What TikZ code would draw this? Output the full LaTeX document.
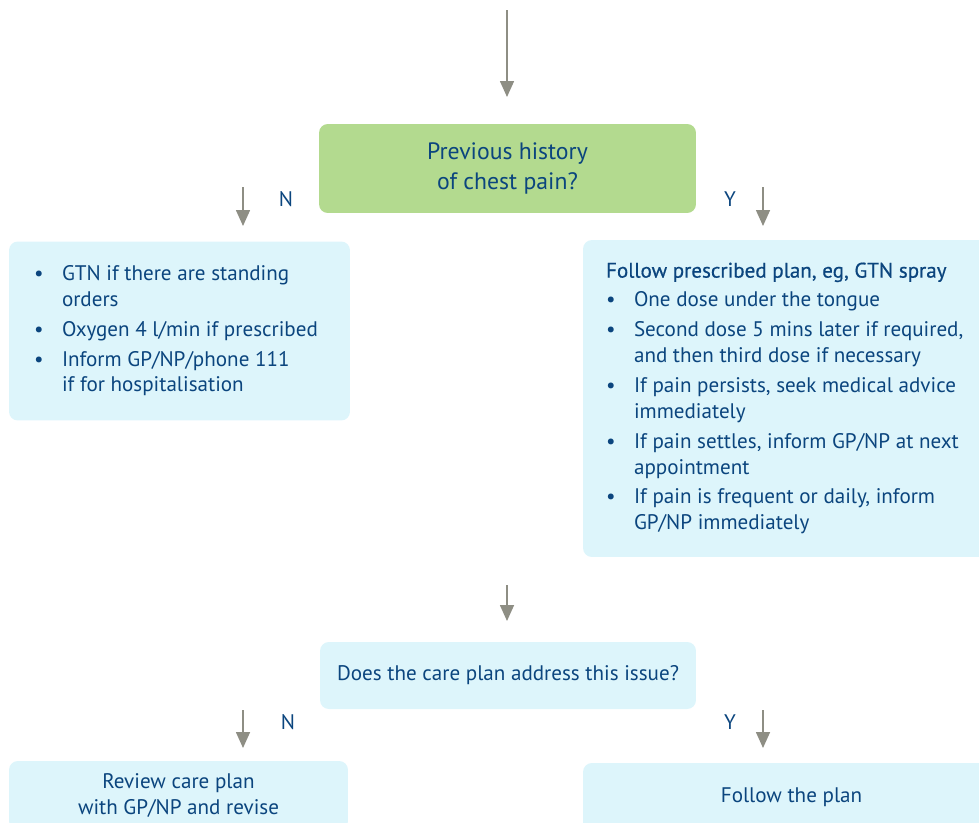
\documentclass[tikz,border=0pt]{standalone}
\usepackage{fontspec}
\setmainfont{PT Sans}
\newfontfamily\medfont[FakeBold=0.6]{PT Sans}
\usepackage{xcolor}
\usepackage{tikz}
\usetikzlibrary{arrows.meta, positioning}

\definecolor{navy}{HTML}{0B457E}
\definecolor{leaf}{HTML}{B3DA8F}
\definecolor{ice}{HTML}{DDF5FB}
\definecolor{stone}{HTML}{8E8E84}

\begin{document}
\begin{tikzpicture}[
    x=0.02cm, y=-0.02cm,
    every node/.style={text=navy, font=\fontsize{12}{14.7}\selectfont},
    question/.style={rectangle, fill=leaf, rounded corners=5pt, align=center, inner sep=0pt},
    block/.style={rectangle, fill=ice, rounded corners=5pt, align=center, inner sep=0pt},
    answer/.style={inner sep=0pt},
    arrow/.style={draw=stone, line width=0.9pt, -{Triangle[width=0.28cm,length=0.32cm]}}
]
\useasboundingbox (0,0) rectangle (979,822);
\clip (0,0) rectangle (979,822);

% First question
\node [question, minimum width=7.54cm, minimum height=1.78cm,
       font=\fontsize{13.5}{17.6}\selectfont] (history) at (507.5,168.5)
      {Previous history\\of chest pain?};

% Answers to the first question
\node [block, minimum width=6.82cm, minimum height=3.58cm] (nohist) at (179.5,331) {%
  \begin{tabular}{@{}p{0.56cm}@{}p{5.26cm}@{}}
  \textbullet & GTN if there are standing\newline orders\\[2.3pt]
  \textbullet & Oxygen 4 l/min if prescribed\\[2.3pt]
  \textbullet & Inform GP/NP/phone 111\newline if for hospitalisation
  \end{tabular}};

\node [block, minimum width=8.34cm, minimum height=6.34cm] (plan) at (791.5,398.5) {%
  \begin{tabular}{@{}p{0.56cm}@{}p{6.86cm}@{}}
  \multicolumn{2}{@{}l@{}}{\medfont Follow prescribed plan, eg, GTN spray}\\[2pt]
  \textbullet & One dose under the tongue\\[2.3pt]
  \textbullet & Second dose 5 mins later if required,\newline and then third dose if necessary\\[2.3pt]
  \textbullet & If pain persists, seek medical advice\newline immediately\\[2.3pt]
  \textbullet & If pain settles, inform GP/NP at next\newline appointment\\[2.3pt]
  \textbullet & If pain is frequent or daily, inform\newline GP/NP immediately
  \end{tabular}};

% Second question
\node [block, minimum width=7.52cm, minimum height=1.34cm] (careplan) at (508,675.5)
      {Does the care plan address this issue?};

\node [block, minimum width=6.78cm, minimum height=1.38cm] (review) at (178.5,795.5)
      {Review care plan\\with GP/NP and revise};
\node [block, minimum width=8.34cm, minimum height=1.36cm] (follow) at (791.5,797)
      {Follow the plan};

% Y / N labels
\node [answer] (no1) at (286,199) {N};
\node [answer] (yes1) at (730,199) {Y};
\node [answer] (no2) at (288,722) {N};
\node [answer] (yes2) at (730,722) {Y};

% Arrow ends
\coordinate (start) at (507,10);
\coordinate (starttip) at (507,97);
\coordinate (no1top) at (243,187);
\coordinate (no1tip) at (243,226);
\coordinate (yes1top) at (763,187);
\coordinate (yes1tip) at (763,226);
\coordinate (midtop) at (507,585);
\coordinate (midtip) at (507,621);
\coordinate (no2top) at (243,710);
\coordinate (no2tip) at (243,748);
\coordinate (yes2top) at (763,710);
\coordinate (yes2tip) at (763,748);

\draw [arrow] (start) -- (starttip);
\draw [arrow] (no1top) -- (no1tip);
\draw [arrow] (yes1top) -- (yes1tip);
\draw [arrow] (midtop) -- (midtip);
\draw [arrow] (no2top) -- (no2tip);
\draw [arrow] (yes2top) -- (yes2tip);

\end{tikzpicture}
\end{document}
